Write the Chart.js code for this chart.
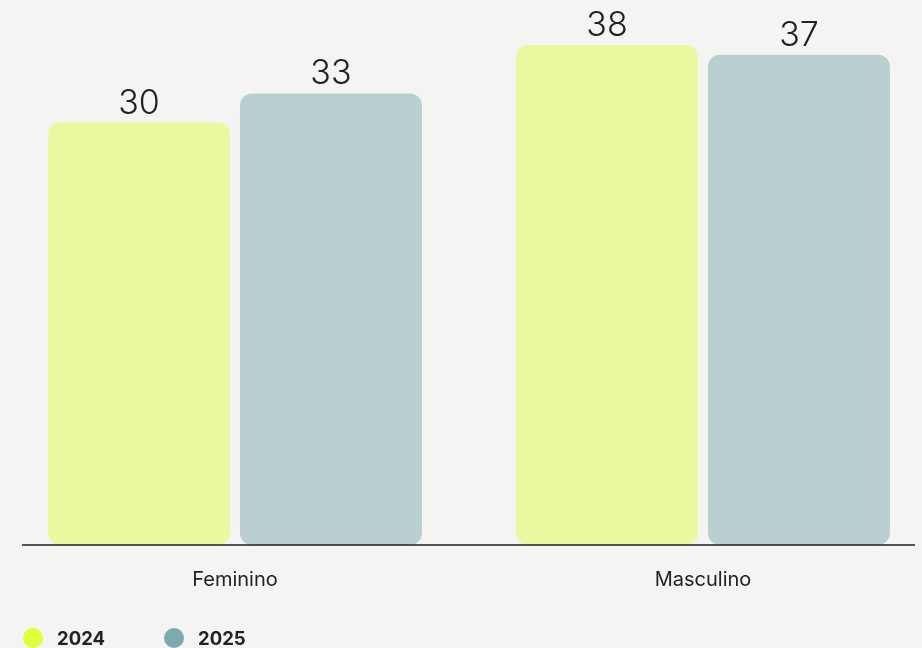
<!DOCTYPE html>
<html>
<head>
<meta charset="utf-8">
<script src="https://cdn.jsdelivr.net/npm/chart.js@4.4.1/dist/chart.umd.min.js"></script>
<style>
  html, body { margin: 0; padding: 0; overflow: hidden; background: #f4f4f2; }
  #wrap { position: relative; width: 922px; height: 648px; overflow: hidden; }
  #box { position: absolute; left: 0; top: 0; width: 940px; height: 648px; }
  #legend { position: absolute; left: 23px; top: 628px; display: flex; align-items: center;
            font-family: Inter, Roboto, sans-serif; font-weight: 700; font-size: 18.5px; color: #222; }
  #legend .item { display: flex; align-items: center; margin-right: 59px; line-height: 20px; }
  #legend .dot { width: 20px; height: 20px; border-radius: 50%; margin-right: 14px; }
</style>
</head>
<body>
<div id="wrap">
  <div id="box"><canvas id="canvas1"></canvas></div>
  <div id="legend"></div>
</div>
<script>
var categories = ['Feminino', 'Masculino'];
var years = ['2024', '2025'];
var values2024 = [30, 38];
var values2025 = [33, 37];

// axis range (bars do not start at 0)
var yMin = -13.65;
var yMax = 42.66;

var barColors = ['rgba(226, 252, 60, 0.45)', 'rgba(125, 169, 173, 0.5)'];
var dotColors = ['#e2fd3a', '#7ea9ad'];

var valueLabels = {
  id: 'valueLabels',
  afterDatasetsDraw: function(chart) {
    var ctx = chart.ctx;
    ctx.save();
    // axis line
    ctx.strokeStyle = '#1e1e1e';
    ctx.lineWidth = 1.5;
    ctx.beginPath();
    ctx.moveTo(22, chart.chartArea.bottom);
    ctx.lineTo(915, chart.chartArea.bottom);
    ctx.stroke();
    // values above bars
    ctx.font = '300 34px Inter, Roboto, sans-serif';
    ctx.fillStyle = '#222';
    ctx.textAlign = 'center';
    ctx.textBaseline = 'alphabetic';
    chart.data.datasets.forEach(function(ds, i) {
      chart.getDatasetMeta(i).data.forEach(function(bar, j) {
        ctx.fillText(ds.data[j], bar.x, bar.y - 9);
      });
    });
    ctx.restore();
  }
};

new Chart(document.getElementById('canvas1'), {
  type: 'bar',
  data: {
    labels: categories,
    datasets: [
      { label: years[0], data: values2024, backgroundColor: barColors[0], base: yMin },
      { label: years[1], data: values2025, backgroundColor: barColors[1], base: yMin }
    ]
  },
  options: {
    responsive: true,
    maintainAspectRatio: false,
    animation: false,
    borderRadius: 12,
    borderSkipped: false,
    categoryPercentage: 0.82,
    barPercentage: 0.948,
    layout: { padding: { left: 1, right: 3, top: 0, bottom: 33 } },
    plugins: { legend: { display: false }, tooltip: { enabled: false } },
    scales: {
      x: {
        grid: { display: false, drawTicks: false },
        border: { display: false },
        ticks: { color: '#222', font: { family: 'Inter, Roboto, sans-serif', size: 20 }, padding: 23 }
      },
      y: { display: false, min: yMin, max: yMax }
    }
  },
  plugins: [valueLabels]
});

var legend = document.getElementById('legend');
years.forEach(function(y, i) {
  var item = document.createElement('div');
  item.className = 'item';
  item.innerHTML = '<span class="dot" style="background:' + dotColors[i] + '"></span><span>' + y + '</span>';
  legend.appendChild(item);
});
</script>
</body>
</html>
